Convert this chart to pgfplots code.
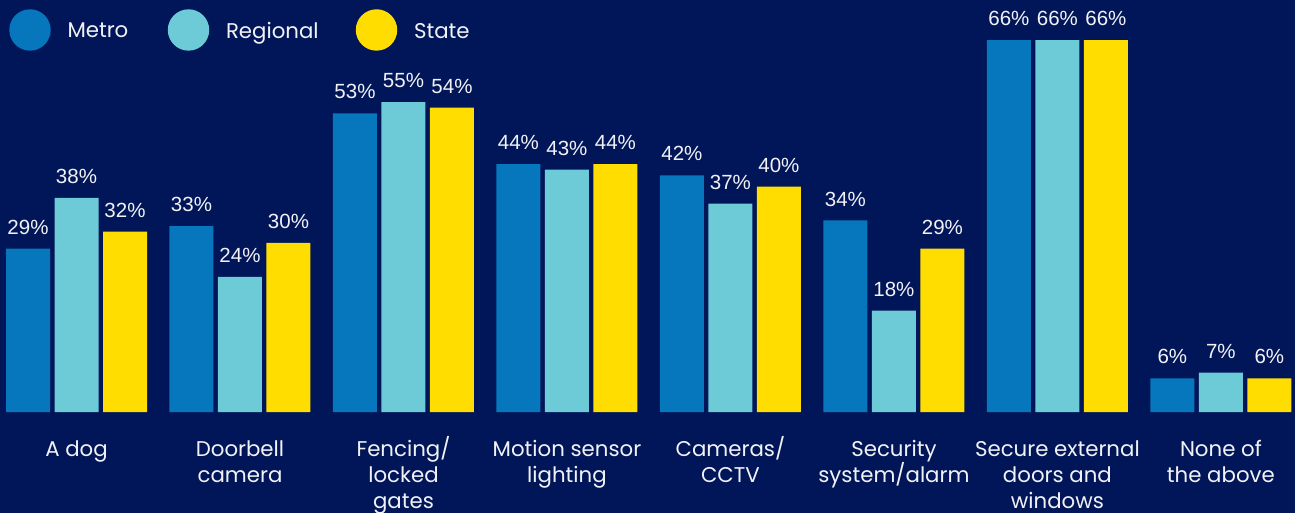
\documentclass[border=0pt]{standalone}
\usepackage{pgfplots}
\pgfplotsset{compat=1.18}
\usepackage{fontspec}
\setmainfont{Poppins}
\newfontfamily\valfont{Liberation Sans}
\definecolor{bg}{RGB}{0,22,88}
\definecolor{metro}{RGB}{6,118,189}
\definecolor{regional}{RGB}{109,203,216}
\definecolor{state}{RGB}{255,221,0}
\definecolor{fg}{RGB}{242,242,246}
\newcommand{\fs}{\rule{0pt}{22pt}}
\begin{document}
\begin{tikzpicture}[x=1pt,y=1pt]
\fill[bg] (0,0) rectangle (1295,513);
\useasboundingbox (0,0) rectangle (1295,513);
\begin{axis}[
  at={(0pt,0pt)}, anchor=south west,
  scale only axis, width=1295pt, height=513pt,
  xmin=-0.468, xmax=7.453, ymin=-17.9, ymax=73.1,
  hide axis, clip=false,
  ybar=4.5pt, bar width=44pt,
  nodes near coords={\pgfmathprintnumber{\pgfplotspointmeta}\%},
  /pgf/number format/assume math mode=true,
  every node near coord/.append style={font=\valfont\fontsize{20.5}{24}\selectfont, text=fg, inner sep=0pt, yshift=14pt},
  every axis plot post/.append style={draw=none,
    legend image code/.code={\fill[##1,draw=none] (20.7pt,1.3pt) circle (20.7pt); \path (58.2pt,0pt);}},
  legend style={at={(axis description cs:0.00718,0.9819)}, anchor=north west,
    draw=none, fill=none, inner sep=0pt, outer sep=0pt, column sep=0pt,
    font=\fontsize{21.3}{26}\selectfont, text=fg, nodes={inner sep=0pt}},
  legend columns=3,
]
\addplot[fill=metro] coordinates {(0,29) (1,33) (2,53) (3,44) (4,42) (5,34) (6,66) (7,6)};
\addplot[fill=regional] coordinates {(0,38) (1,24) (2,55) (3,43) (4,37) (5,18) (6,66) (7,7)};
\addplot[fill=state] coordinates {(0,32) (1,30) (2,54) (3,44) (4,40) (5,29) (6,66) (7,6)};
\legend{\makebox[100.3pt][l]{Metro},\makebox[129.8pt][l]{Regional},State}
\begin{scope}[every node/.style={anchor=north, align=center, inner sep=0pt, text=fg, font=\fontsize{21.3}{26}\selectfont}]
\node at (axis cs:0,-3.9) {\fs A dog};
\node at (axis cs:1,-3.9) {\fs Doorbell\\camera};
\node at (axis cs:2,-3.9) {\fs Fencing/\\locked\\gates};
\node at (axis cs:3,-3.9) {\fs Motion sensor\\lighting};
\node at (axis cs:4,-3.9) {\fs Cameras/\\CCTV};
\node at (axis cs:5,-3.9) {\fs Security\\system/alarm};
\node at (axis cs:6,-3.9) {\fs Secure external\\doors and\\windows};
\node at (axis cs:7,-3.9) {\fs None of\\the above};
\end{scope}
\end{axis}
\end{tikzpicture}
\end{document}
